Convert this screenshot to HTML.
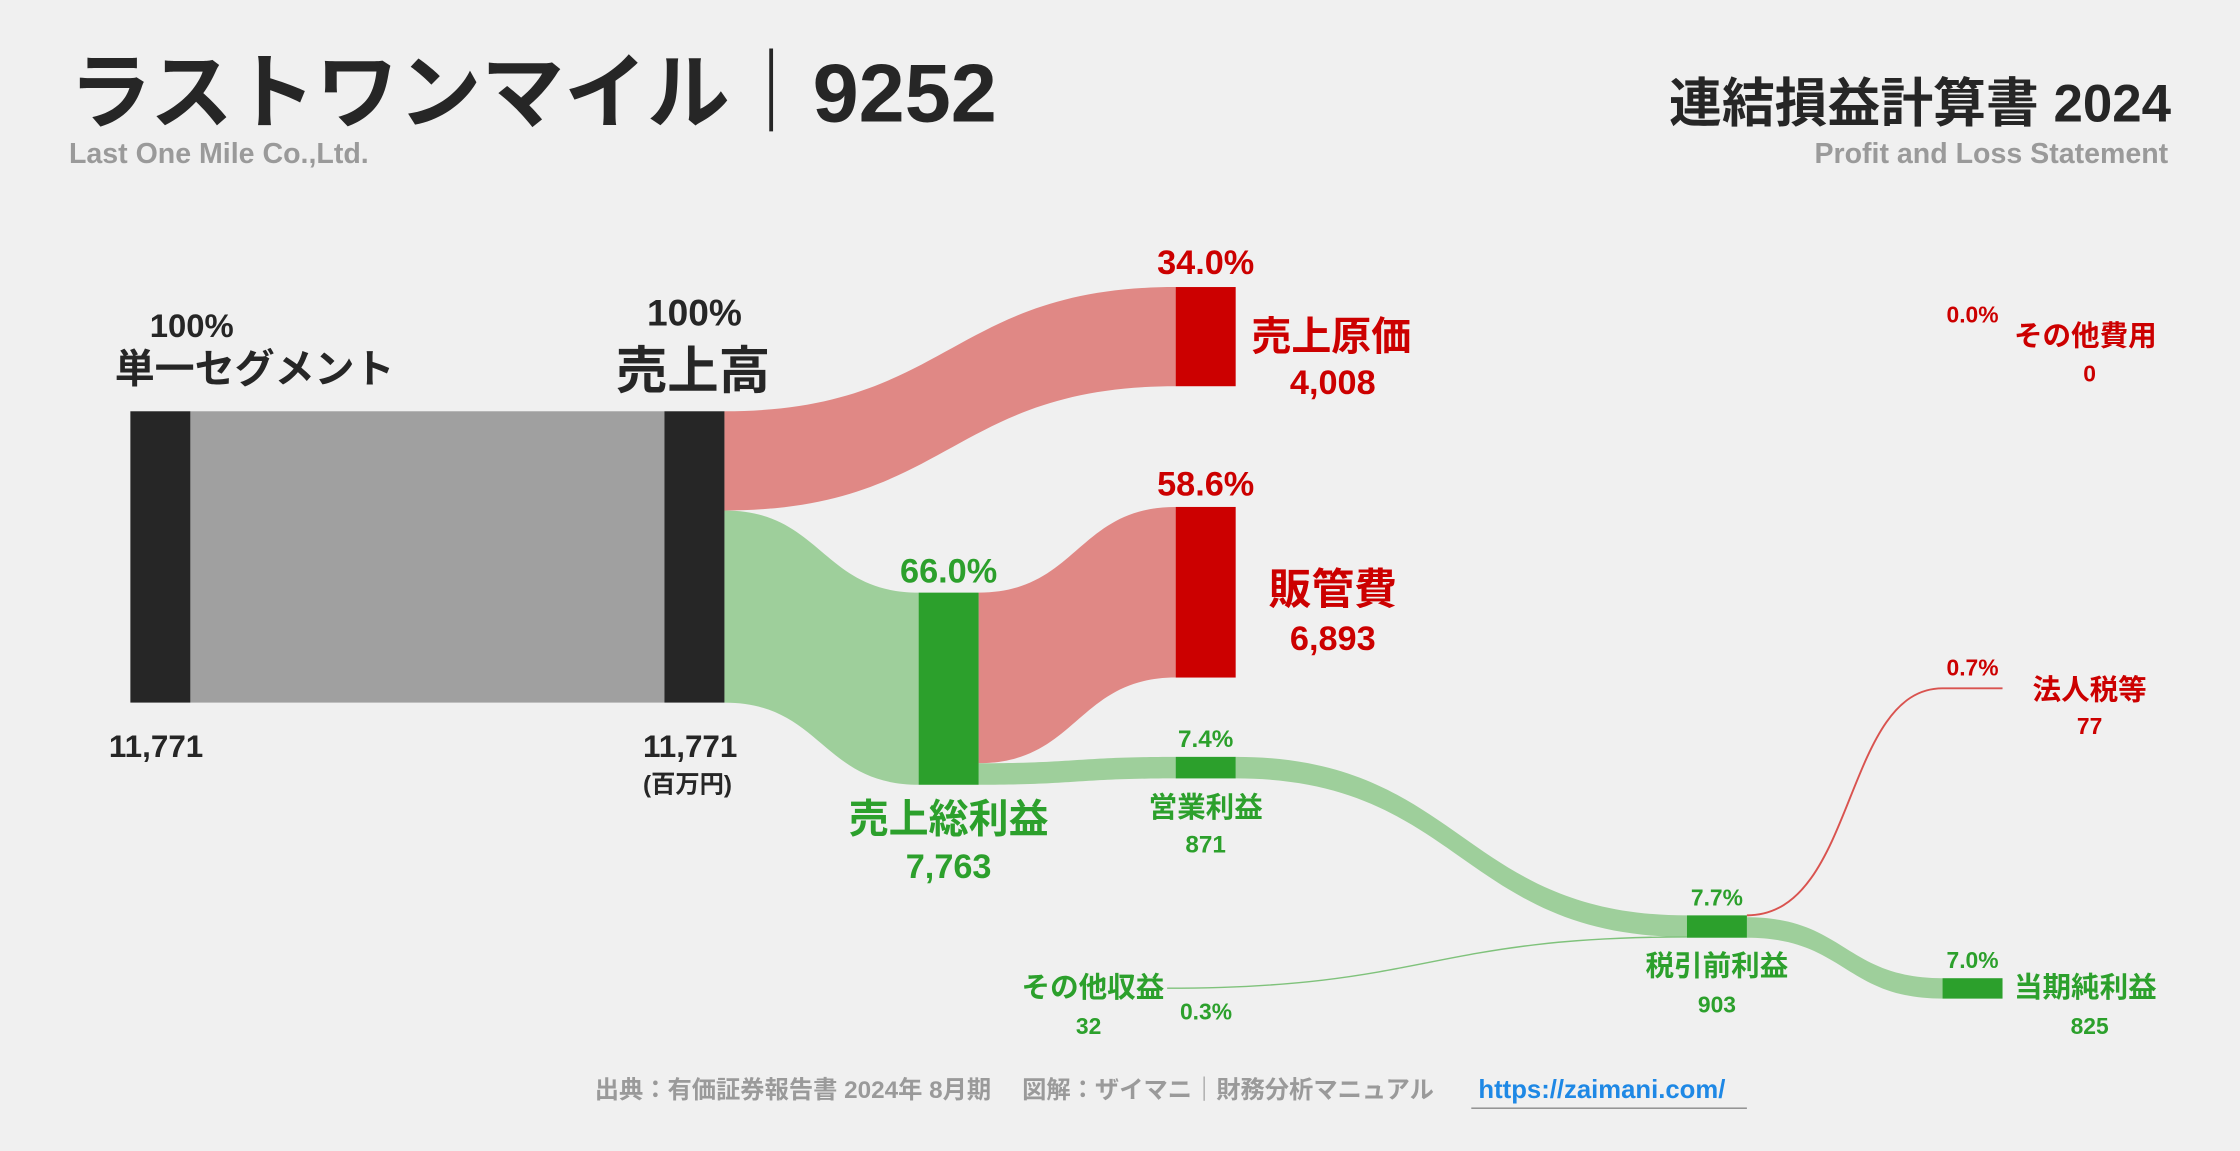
<!DOCTYPE html>
<html><head><meta charset="utf-8"><style>
html,body{margin:0;padding:0;background:#f0f0f0;}
svg{display:block;font-family:"Liberation Sans","Noto Sans CJK JP",sans-serif;font-weight:bold;}
</style></head><body>
<svg id="chart" width="2240" height="1151" viewBox="0 0 1568 806" xmlns="http://www.w3.org/2000/svg">
<rect width="1568" height="806" fill="#f0f0f0"/>
<text x="48" y="85" font-size="58" fill="#262626">ラストワンマイル｜9252</text>
<text x="48" y="114" font-size="20" fill="#9a9a9a">Last One Mile Co.,Ltd.</text>
<text x="1520" y="85" font-size="37" fill="#262626" text-anchor="end">連結損益計算書 2024</text>
<text x="1518" y="114" font-size="20" fill="#9a9a9a" text-anchor="end">Profit and Loss Statement</text>
<g id="flows"></g>
<g id="nodes"></g>
<g id="labels"></g>
<text x="710" y="769" font-size="17" fill="#9a9a9a" text-anchor="middle">出典：有価証券報告書 2024年 8月期　 図解：ザイマニ｜財務分析マニュアル</text>
<text x="1035" y="769" font-size="18" fill="#1e88e5">https://zaimani.com/</text>
<line x1="1030" y1="776" x2="1223" y2="776" stroke="#888" stroke-width="1"/>
</svg>
<script>
const categories = ["単一セグメント","売上高","売上原価","売上総利益","販管費","営業利益","その他収益","その他費用","税引前利益","法人税等","当期純利益"];
const values = [11771, 11771, 4008, 7763, 6893, 871, 32, 0, 903, 77, 825];
const percents = ["100%","100%","34.0%","66.0%","58.6%","7.4%","0.3%","0.0%","7.7%","0.7%","7.0%"];
const valueLabels = ["11,771","11,771","4,008","7,763","6,893","871","32","0","903","77","825"];

const SVGNS="http://www.w3.org/2000/svg";
const k = 204/values[0];
const h = i => values[i]*k;
const RED="#cc0000", GREEN="#2ca02c", DARK="#262626";
const nodes = {
  seg:{x:91,y:288,i:0,c:DARK}, sales:{x:465,y:288,i:1,c:DARK},
  cos:{x:823,y:201,i:2,c:RED}, gross:{x:643,y:415,i:3,c:GREEN},
  sga:{x:823,y:355,i:4,c:RED}, op:{x:823,y:530,i:5,c:GREEN},
  pre:{x:1181,y:641,i:8,c:GREEN}, net:{x:1360,y:685,i:10,c:GREEN}
};
const W=42;
const fg=document.getElementById('flows'), ng=document.getElementById('nodes'), lg=document.getElementById('labels');
function el(tag,attrs,parent){const e=document.createElementNS(SVGNS,tag);for(const a in attrs)e.setAttribute(a,attrs[a]);parent.appendChild(e);return e;}
function flow(x0,y0,x1,y1,hh,color,name){
  const m=(x0+x1)/2;
  const d=`M${x0},${y0} C${m},${y0} ${m},${y1} ${x1},${y1} L${x1},${y1+hh} C${m},${y1+hh} ${m},${y0+hh} ${x0},${y0+hh} Z`;
  const p=el('path',{d:d,fill:color},fg);
  
  
}
const lightRed="#e08885", lightGreen="#9ecf9b";
// segment -> sales
const band=el('rect',{x:133,y:288,width:332,height:h(0),fill:"#a0a0a0"},fg);


flow(507,288,823,nodes.cos.y,h(2),lightRed,'flow-sales-to-cost');
flow(507,288+h(2),643,nodes.gross.y,h(3),lightGreen,'flow-sales-to-gross');
flow(685,nodes.gross.y,823,nodes.sga.y,h(4),lightRed,'flow-gross-to-sga');
flow(685,nodes.gross.y+h(4),823,nodes.op.y,h(5),lightGreen,'flow-gross-to-op');
flow(865,nodes.op.y,1181,nodes.pre.y,h(5),lightGreen,'flow-op-to-pretax');
flow(1223,nodes.pre.y+h(9),1360,nodes.net.y,h(10),lightGreen,'flow-pretax-to-net');
// thin lines
let p=el('path',{d:`M817,692 C1000,692 1000,${nodes.pre.y+h(5)} 1181,${nodes.pre.y+h(5)}`,fill:"none",stroke:"#7fc27b","stroke-width":Math.max(1,h(6))},fg);


p=el('path',{d:`M1223,${nodes.pre.y} C1300,${nodes.pre.y} 1290,482 1360,482 L1402,482`,fill:"none",stroke:"#d9534f","stroke-width":Math.max(0.8,h(9))},fg);


for(const key in nodes){const n=nodes[key];
  const r=el('rect',{x:n.x,y:n.y,width:W,height:h(n.i),fill:n.c},ng);
  
  
}
function t(x,y,s,txt,c,anchor,name){const e=el('text',{x:x,y:y,'font-size':s,fill:c,'text-anchor':anchor||'middle'},lg);e.textContent=txt;
  
  }
t(134,236,23,percents[0],DARK,'middle','segment-percent');
t(178,268,28,categories[0],DARK,'middle','segment-label');
t(76,530,22,valueLabels[0],DARK,'start','segment-value');
t(486,228,26,percents[1],DARK,'middle','sales-percent');
t(485,272,36,categories[1],DARK,'middle','sales-label');
t(450,530,22,valueLabels[1],DARK,'start','sales-value');
t(450,555,17,"(百万円)",DARK,'start','unit-label');
t(844,192,24,percents[2],RED,'middle','cost-percent');
t(876,245,28,categories[2],RED,'start','cost-label');
t(933,276,24,valueLabels[2],RED,'middle','cost-value');
t(844,347,24,percents[4],RED,'middle','sga-percent');
t(933,423,30,categories[4],RED,'middle','sga-label');
t(933,455,24,valueLabels[4],RED,'middle','sga-value');
t(664,408,24,percents[3],GREEN,'middle','gross-percent');
t(664,583,28,categories[3],GREEN,'middle','gross-label');
t(664,615,24,valueLabels[3],GREEN,'middle','gross-value');
t(844,523,17,percents[5],GREEN,'middle','op-percent');
t(844,572,20,categories[5],GREEN,'middle','op-label');
t(844,597,17,valueLabels[5],GREEN,'middle','op-value');
t(1381,226,16,percents[7],RED,'middle','other-expense-percent');
t(1410,242,20,categories[7],RED,'start','other-expense-label');
t(1463,267,16,valueLabels[7],RED,'middle','other-expense-value');
t(1381,473,16,percents[9],RED,'middle','tax-percent');
t(1463,490,20,categories[9],RED,'middle','tax-label');
t(1463,514,16,valueLabels[9],RED,'middle','tax-value');
t(1202,634,16,percents[8],GREEN,'middle','pretax-percent');
t(1202,683,20,categories[8],GREEN,'middle','pretax-label');
t(1202,709,16,valueLabels[8],GREEN,'middle','pretax-value');
t(1381,678,16,percents[10],GREEN,'middle','net-percent');
t(1410,698,20,categories[10],GREEN,'start','net-label');
t(1463,724,16,valueLabels[10],GREEN,'middle','net-value');
t(815,698,20,categories[6],GREEN,'end','other-income-label');
t(762,724,16,valueLabels[6],GREEN,'middle','other-income-value');
t(826,714,16,percents[6],GREEN,'start','other-income-percent');
</script>
</body></html>
